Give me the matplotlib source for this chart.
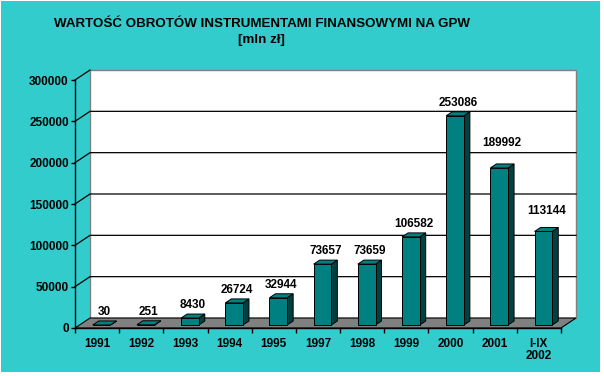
import matplotlib
matplotlib.use('Agg')
import matplotlib.pyplot as plt
from matplotlib.patches import Polygon, Rectangle

# dane: wartość obrotów na GPW [mln zł]
years = ['1991', '1992', '1993', '1994', '1995', '1997', '1998', '1999',
         '2000', '2001', 'I-IX\n2002']
values = [30, 251, 8430, 26724, 32944, 73657, 73659, 106582, 253086, 189992, 113144]
yticks = [0, 50000, 100000, 150000, 200000, 250000, 300000]

# dodatkowe podniesienie etykiet (w punktach), jak w oryginale
label_lift = [0, 0, 0, 0, 0, 0, 0, 0, 0, 8.5, 5.5]

BG = '#33CCCC'
BAR = '#008080'
BAR_SIDE = '#004040'
FLOOR = '#808080'

plt.rcParams['font.family'] = ['Liberation Sans', 'DejaVu Sans']

W, H = 604, 376
fig = plt.figure(figsize=(W / 100, H / 100), dpi=100, facecolor='white')
fig.patches.append(Rectangle((1 / W, 4 / H), 599 / W, 371 / H, transform=fig.transFigure,
                             facecolor=BG, edgecolor='none', zorder=-10))

ax = fig.add_axes([75 / W, 48 / H, 486 / W, 248 / H])
ax.set_zorder(1)
ax.set_facecolor('none')
n = len(years)
ax.set_xlim(-0.5, n - 0.5)
ax.set_ylim(0, 300000)

# głębokość 3D: 15 px w prawo, 10 px w górę
DX = 15 * n / 486
DY = 10 * 300000 / 248


def at(x, y, f):
    return (x + f * DX, y + f * DY)


# tylna ściana
wall = Polygon([at(-0.5, 0, 1), at(n - 0.5, 0, 1), at(n - 0.5, 300000, 1), at(-0.5, 300000, 1)],
               closed=True, facecolor='white', edgecolor='#808080', lw=1, clip_on=False, zorder=1)
ax.add_patch(wall)

# linie siatki
for t in yticks[1:]:
    xs = [-0.5, -0.5 + DX]
    ys = [t, t + DY]
    if t < 300000:
        xs.append(n - 0.5 + DX)
        ys.append(t + DY)
    ax.plot(xs, ys, color='black', lw=0.9, clip_on=False, zorder=1.5)

# podłoga
floor = Polygon([at(-0.5, 0, 0), at(n - 0.5, 0, 0), at(n - 0.5, 0, 1), at(-0.5, 0, 1)],
                closed=True, facecolor=FLOOR, edgecolor='black', lw=0.8, clip_on=False, zorder=2)
ax.add_patch(floor)

# słupki 3D
w = 0.4
f0, f1 = 0.3, 0.7
for i, v in enumerate(values):
    front = [at(i - w / 2, 0, f0), at(i + w / 2, 0, f0), at(i + w / 2, v, f0), at(i - w / 2, v, f0)]
    side = [at(i + w / 2, 0, f0), at(i + w / 2, 0, f1), at(i + w / 2, v, f1), at(i + w / 2, v, f0)]
    top = [at(i - w / 2, v, f0), at(i + w / 2, v, f0), at(i + w / 2, v, f1), at(i - w / 2, v, f1)]
    for pts, col in ((side, BAR_SIDE), (top, BAR), (front, BAR)):
        ax.add_patch(Polygon(pts, closed=True, facecolor=col, edgecolor='black', lw=0.7,
                             clip_on=False, zorder=3))
    ax.annotate(str(v), xy=at(i, v, 0.5), xytext=(0, 8 + label_lift[i]), textcoords='offset points',
                ha='center', va='center', fontsize=8.5, fontweight='bold', zorder=4,
                annotation_clip=False)

# osie
for s in ['top', 'right']:
    ax.spines[s].set_visible(False)
ax.spines['left'].set_linewidth(1)
ax.spines['bottom'].set_linewidth(1)
ax.spines['left'].set_zorder(2.5)
ax.spines['bottom'].set_zorder(2.5)

ax.set_yticks(yticks)
ax.set_yticklabels([str(t) for t in yticks], fontsize=8.5, fontweight='bold')
ax.tick_params(axis='y', direction='out', length=3, width=1, pad=1.5)

ax.set_xticks(range(n))
ax.set_xticklabels(years, fontsize=8.5, fontweight='bold')
ax.set_xticks([i - 0.5 for i in range(n + 1)], minor=True)
ax.tick_params(axis='x', which='major', length=0, pad=7)
ax.tick_params(axis='x', which='minor', direction='out', length=3.6, width=1)
for lbl in ax.get_xticklabels():
    lbl.set_linespacing(1.05)

fig.text(261.5 / W, 1 - 18 / H, 'WARTOŚĆ OBROTÓW INSTRUMENTAMI FINANSOWYMI NA GPW\n[mln zł]',
         ha='center', va='top', multialignment='center', fontsize=9.6, fontweight='bold',
         linespacing=1.45)

fig.savefig('out.png', dpi=100, facecolor=fig.get_facecolor())
